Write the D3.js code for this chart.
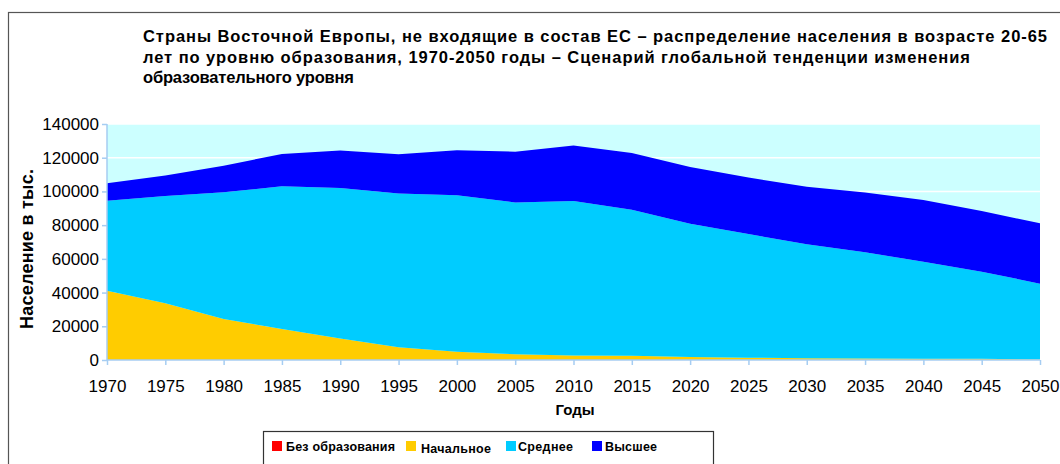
<!DOCTYPE html>
<html><head><meta charset="utf-8">
<script src="https://cdn.jsdelivr.net/npm/d3@7"></script>
<style>body{margin:0;background:#fff;}svg{display:block;font-family:Arial,"Liberation Sans",sans-serif;}</style>
</head><body>
<svg id="c" width="1060" height="464"></svg>
<script>
const years = [1970,1975,1980,1985,1990,1995,2000,2005,2010,2015,2020,2025,2030,2035,2040,2045,2050];
const noEducation = [0,0,0,0,0,0,0,0,0,0,0,0,0,0,0,0,0];
const primary   = [41100,33600,24300,18400,12800,7600,4900,3400,2600,2500,1800,1400,1100,900,800,700,300];
const secondary = [53400,63700,75200,84600,89300,91200,92800,90100,91700,86700,79100,73300,67500,63000,57500,51700,45000];
const higher    = [10300,12200,15800,19200,22200,23300,26700,30100,33000,33600,33600,33500,34200,35400,36600,36000,35800];
const seriesNames = ["Без образования","Начальное","Среднее","Высшее"];
const seriesColors = ["#ff0000","#ffcc00","#00ccff","#0000ff"];
const yTicks = [0,20000,40000,60000,80000,100000,120000,140000];
const titleLines = ["Страны Восточной Европы, не входящие в состав ЕС – распределение населения в возрасте 20-65",
  "лет по уровню образования, 1970-2050 годы – Сценарий глобальной тенденции изменения",
  "образовательного уровня"];

const svg = d3.select("#c");
svg.append("rect").attr("x",8.5).attr("y",12.5).attr("width",1060).attr("height",470)
  .attr("fill","#fff").attr("stroke","#555").attr("stroke-width",1.2);

const m = {l:107, r:1040, t:124, b:360};
const x = d3.scaleLinear().domain([1970,2050]).range([m.l,m.r]);
const y = d3.scaleLinear().domain([0,140000]).range([m.b,m.t]);

svg.append("rect").attr("x",m.l).attr("y",m.t).attr("width",m.r-m.l).attr("height",m.b-m.t).attr("fill","#ccffff");
svg.append("g").selectAll("line").data(yTicks.slice(1)).join("line")
  .attr("x1",m.l).attr("x2",m.r).attr("y1",d=>y(d)).attr("y2",d=>y(d))
  .attr("stroke","#fff").attr("stroke-width",1.5);

const table = years.map((yr,i)=>({year:yr, a:noEducation[i], b:primary[i], c:secondary[i], d:higher[i]}));
const layers = d3.stack().keys(["a","b","c","d"])(table);
const area = d3.area().x(d=>x(d.data.year)).y0(d=>y(d[0])).y1(d=>y(d[1]));
svg.append("g").selectAll("path").data(layers).join("path")
  .attr("d",area).attr("fill",(d,i)=>seriesColors[i]);

const axisColor = "#a6cdf2";
const yAxis = svg.append("g").attr("transform",`translate(${m.l},0)`)
  .call(d3.axisLeft(y).tickValues(yTicks).tickSize(5).tickPadding(3).tickFormat(d3.format("d")));
const xAxis = svg.append("g").attr("transform",`translate(0,${m.b})`)
  .call(d3.axisBottom(x).tickValues(years).tickSize(5).tickPadding(15).tickFormat(d3.format("d")));
[yAxis,xAxis].forEach(g=>{
  g.selectAll("path").attr("stroke",axisColor).attr("stroke-width",1.5);
  g.selectAll("line").attr("stroke",axisColor).attr("stroke-width",1.5);
  g.selectAll("text").attr("font-size",17).attr("fill","#000").attr("font-family","Arial, 'Liberation Sans', sans-serif");
});
yAxis.select(".domain").attr("d",`M0,${m.b}V${m.t}`);
xAxis.select(".domain").attr("d",`M${m.l},0H${m.r}`);

const titleLen = [904,827,211];
svg.append("g").selectAll("text").data(titleLines).join("text")
  .attr("x",143).attr("y",(d,i)=>42+i*20.5).attr("font-size",16.5).attr("font-weight","bold")
  .attr("textLength",(d,i)=>titleLen[i]).attr("lengthAdjust","spacing").text(d=>d);

svg.append("text").attr("transform","translate(33,249) rotate(-90)").attr("text-anchor","middle")
  .attr("font-size",18).attr("font-weight","bold").attr("textLength",160).attr("lengthAdjust","spacing").text("Население в тыс.");
svg.append("text").attr("x",575).attr("y",415).attr("text-anchor","middle")
  .attr("font-size",15).attr("font-weight","bold").text("Годы");

svg.append("rect").attr("x",263.5).attr("y",431.5).attr("width",450).attr("height",60)
  .attr("fill","#fff").attr("stroke","#333").attr("stroke-width",1.2);
const legX = [272,406,506,592];
const legLen = [109,70,55,52];
const lg = svg.append("g").selectAll("g").data(seriesNames).join("g")
  .attr("transform",(d,i)=>`translate(${legX[i]},441)`);
lg.append("rect").attr("width",10).attr("height",10).attr("fill",(d,i)=>seriesColors[i]);
lg.append("text").attr("x",(d,i)=>i===0?14:i===1?15:i===2?12:13).attr("y",(d,i)=>i===1?11.5:10)
  .attr("font-size",12.5).attr("font-weight","bold")
  .attr("textLength",(d,i)=>legLen[i]).attr("lengthAdjust","spacing").text(d=>d);
</script>
</body></html>
